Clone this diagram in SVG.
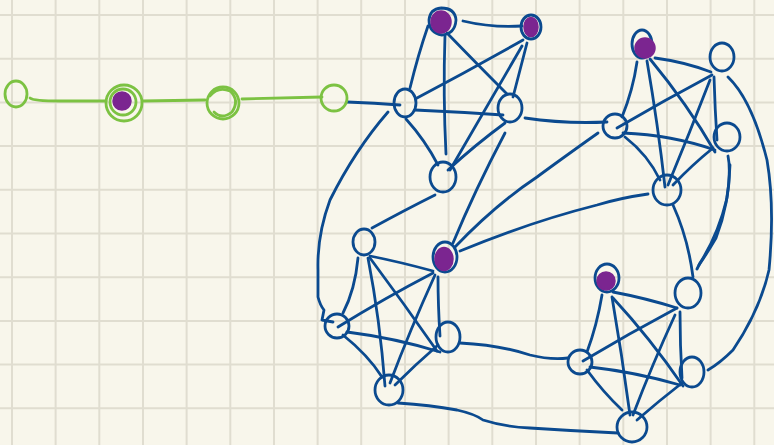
<svg xmlns="http://www.w3.org/2000/svg" width="774" height="445" viewBox="0 0 774 445">
<style>
.grid{stroke:#e0ddd0;stroke-width:2;fill:none}
.e{stroke:#0b4a8f;stroke-width:2.8;fill:none;stroke-linecap:round;stroke-linejoin:round}
.n{stroke:#0b4a8f;stroke-width:2.8;fill:none}
.p{fill:#7b2590;stroke:#7b2590;stroke-width:1.5}
.g{stroke:#7cc242;stroke-width:2.8;fill:none;stroke-linecap:round}
</style>
<rect width="774" height="445" fill="#f8f6eb"/>
<g id="grid" class="grid">
<path d="M12 0V445M55.6 0V445M99.3 0V445M143 0V445M186.6 0V445M230.3 0V445M274 0V445M317.6 0V445M361.2 0V445M405 0V445M448.6 0V445M492.3 0V445M536 0V445M579.6 0V445M623.3 0V445M667 0V445M710.6 0V445M754.3 0V445"/>
<path d="M0 15H774M0 58.7H774M0 102.4H774M0 146H774M0 189.8H774M0 233.5H774M0 277.2H774M0 320.9H774M0 364.6H774M0 408.3H774"/>
</g>
<g id="connectors">
<path class="g" d="M30 98 Q33 101 60 101 L106 101"/>
<path class="g" d="M143 101 L205 100"/>
<path class="g" d="M242 99 Q280 98 322 97"/>
<path class="e" d="M347 102 Q375 103 400 105"/>
<path class="e" d="M463 21 Q492 28 522 26"/>
<path class="e" d="M428 26 Q418 55 410 88"/>
<path class="e" d="M445 35 Q443 95 446 154"/>
<path class="e" d="M447 33 Q478 65 507 94"/>
<path class="e" d="M523 40 Q470 70 417 98"/>
<path class="e" d="M527 43 Q520 70 513 97"/>
<path class="e" d="M522 46 Q485 110 450 170"/>
<path class="e" d="M415 110 Q460 112 503 115"/>
<path class="e" d="M406 119 Q425 140 438 165"/>
<path class="e" d="M505 123 Q475 145 448 170"/>
<path class="e" d="M525 118 Q565 124 607 122"/>
<path class="e" d="M388 112 Q355 150 330 200 Q317 235 318 270 L318 297 Q320 305 324 310 L322 320 L333 322"/>
<path class="e" d="M435 195 Q405 210 372 228"/>
<path class="e" d="M505 133 Q475 190 453 243"/>
<path class="e" d="M598 133 Q560 160 537 177 Q495 205 455 247"/>
<path class="e" d="M648 194 Q620 198 597 205 Q530 222 460 251"/>
<path class="e" d="M655 58 Q685 62 711 72"/>
<path class="e" d="M637 62 Q633 90 622 117"/>
<path class="e" d="M647 61 Q658 125 665 187"/>
<path class="e" d="M650 59 Q688 105 715 152"/>
<path class="e" d="M712 75 Q665 100 617 128"/>
<path class="e" d="M714 77 Q715 110 717 140"/>
<path class="e" d="M710 80 Q690 132 668 185"/>
<path class="e" d="M623 133 Q672 135 715 150"/>
<path class="e" d="M625 137 Q648 155 660 180"/>
<path class="e" d="M713 148 Q692 165 673 185"/>
<path class="e" d="M728 77 Q752 100 767 160 Q775 207 769 270 Q760 310 733 350 Q720 363 708 370"/>
<path class="e" d="M728 156 Q731 170 727 198 Q718 235 700 263 L697 269"/>
<path class="e" d="M730 165 Q729 205 716 238 Q706 255 699 265"/>
<path class="e" d="M673 205 Q688 238 693 277"/>
<path class="e" d="M370 256 Q400 262 433 271"/>
<path class="e" d="M358 258 Q355 290 343 313"/>
<path class="e" d="M368 258 Q380 320 385 386"/>
<path class="e" d="M370 258 Q405 305 437 351"/>
<path class="e" d="M433 273 Q385 298 338 327"/>
<path class="e" d="M435 275 Q410 330 390 383"/>
<path class="e" d="M438 277 Q438 305 440 336"/>
<path class="e" d="M347 332 Q395 338 440 352"/>
<path class="e" d="M343 335 Q368 355 382 377"/>
<path class="e" d="M438 345 Q415 365 395 385"/>
<path class="e" d="M460 343 Q500 345 530 355 Q550 360 568 358"/>
<path class="e" d="M398 403 Q430 405 457 410 Q475 414 483 420 Q505 427 530 428 Q575 431 618 433"/>
<path class="e" d="M613 292 Q645 298 677 308"/>
<path class="e" d="M602 295 Q597 325 587 352"/>
<path class="e" d="M612 297 Q622 355 630 415"/>
<path class="e" d="M613 298 Q650 338 683 386"/>
<path class="e" d="M677 308 Q630 333 583 361"/>
<path class="e" d="M680 312 Q680 345 682 378"/>
<path class="e" d="M675 315 Q652 365 633 415"/>
<path class="e" d="M590 367 Q635 372 680 385"/>
<path class="e" d="M587 370 Q603 392 622 410"/>
<path class="e" d="M682 383 Q660 400 637 420"/>
</g>
<g id="g1"><ellipse class="g" cx="16" cy="94" rx="11" ry="13"/></g>
<g id="g2"><circle class="g" cx="124" cy="103" r="18"/><circle class="g" cx="123" cy="102" r="13"/><circle class="p" cx="122" cy="101" r="9"/></g>
<g id="g3"><circle class="g" cx="223" cy="103" r="16"/><path class="g" d="M214 112 Q222 120 232 112 Q240 100 230 91 Q218 86 210 96"/></g>
<g id="g4"><ellipse class="g" cx="334" cy="98" rx="13" ry="13"/></g>
<g id="A"><path class="n" d="M441 8 Q455 8 456 20 Q455 34 442 35 Q429 33 429 20 Q430 9 441 8"/><ellipse class="p" cx="441" cy="22" rx="10" ry="11"/></g>
<g id="B"><ellipse class="n" cx="531" cy="27" rx="10" ry="12"/><ellipse class="p" cx="531" cy="27" rx="7" ry="9.5"/></g>
<g id="C"><ellipse class="n" cx="405" cy="103" rx="11" ry="14"/></g>
<g id="D"><ellipse class="n" cx="510" cy="108" rx="12" ry="14"/></g>
<g id="E"><ellipse class="n" cx="443" cy="177" rx="13" ry="15"/></g>
<g id="F"><ellipse class="n" cx="642" cy="44" rx="10" ry="14"/><circle class="p" cx="645" cy="48" r="10"/></g>
<g id="G"><ellipse class="n" cx="722" cy="57" rx="12" ry="14"/></g>
<g id="H"><ellipse class="n" cx="615" cy="126" rx="12" ry="12"/></g>
<g id="I"><ellipse class="n" cx="727" cy="137" rx="13" ry="14"/></g>
<g id="J"><ellipse class="n" cx="667" cy="190" rx="14" ry="15"/></g>
<g id="L"><ellipse class="n" cx="364" cy="242" rx="11" ry="13"/></g>
<g id="K"><ellipse class="n" cx="445" cy="257" rx="12" ry="15"/><ellipse class="p" cx="444" cy="259" rx="9" ry="11.5"/></g>
<g id="M"><ellipse class="n" cx="337" cy="326" rx="12" ry="12"/></g>
<g id="N"><ellipse class="n" cx="448" cy="337" rx="12" ry="15"/></g>
<g id="O"><ellipse class="n" cx="389" cy="390" rx="14" ry="15"/></g>
<g id="R"><ellipse class="n" cx="607" cy="278" rx="12" ry="14"/><circle class="p" cx="606" cy="281" r="9"/></g>
<g id="S"><ellipse class="n" cx="688" cy="293" rx="13" ry="15"/></g>
<g id="P"><ellipse class="n" cx="580" cy="362" rx="12" ry="12"/></g>
<g id="T"><ellipse class="n" cx="692" cy="372" rx="12" ry="15"/></g>
<g id="Q"><ellipse class="n" cx="632" cy="427" rx="15" ry="15"/></g>
</svg>
